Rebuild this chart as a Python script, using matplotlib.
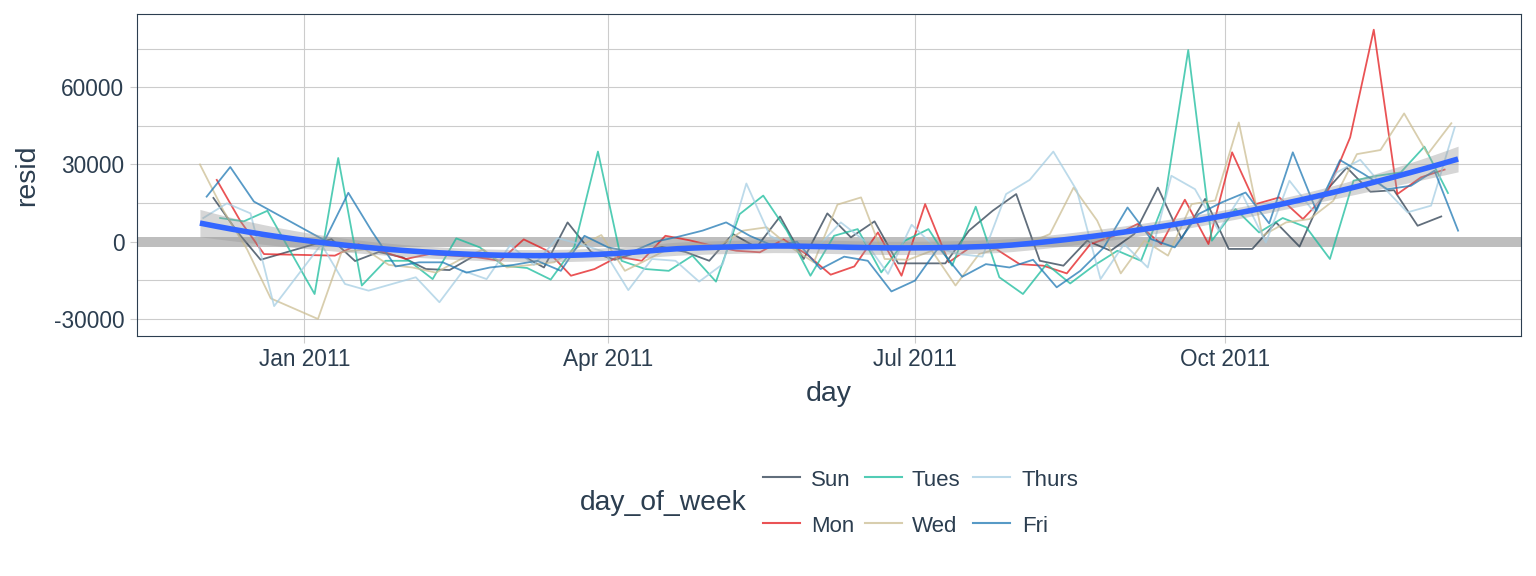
import numpy as np
import pandas as pd
import matplotlib
matplotlib.use("Agg")
import matplotlib.pyplot as plt
import matplotlib.dates as mdates
from matplotlib.lines import Line2D

plt.rcParams['font.family'] = ['Liberation Sans', 'DejaVu Sans']

# ---------------- data ----------------
series_names = ['Sun', 'Mon', 'Tues', 'Wed', 'Thurs', 'Fri']
series_colors = ['#2c3e50', '#e31a1c', '#18BC9C', '#CCBE93', '#a6cee3', '#1f78b4']

# (pre-holiday start, number of pre-holiday weeks, post-holiday start, end)
sun_dates = ('2010-12-05', 3, '2011-01-09', '2011-12-04')
mon_dates = ('2010-12-06', 3, '2011-01-10', '2011-12-05')
tue_dates = ('2010-12-07', 3, '2011-01-04', '2011-12-06')
wed_dates = ('2010-12-01', 4, '2011-01-05', '2011-12-07')
thu_dates = ('2010-12-02', 4, '2011-01-06', '2011-12-08')
fri_dates = ('2010-12-03', 3, '2011-01-07', '2011-12-09')

sun_resid = [17000, 4000, -7000,
             1000, -7500, -4000, -6000, -10600, -11000, -5700, -6000, -5000, -10000,
             7500, -4000, -7000, -4000, -2000, -4000, -7400, 3000, -2200, 9800, -6700,
             11000, 1700, 7900, -8400, -8400, -8400, 4300, 12000, 18500, -7400, -9300,
             400, -3500, 3000, 21000, 1300, 16600, -2800, -2800, 7500, -1900, 18500,
             28800, 19400, 20000, 6200, 9800]
mon_resid = [24000, 8000, -4800,
             -5400, -1000, -3700, -6700, -4800, -5400, -6000, -7400, 900, -3500,
             -13200, -10600, -5800, -7400, 2300, 600, -1600, -3500, -4100, 900, -5000,
             -12800, -9600, 3600, -13200, 14600, -8000, -1600, -2800, -8700, -9300,
             -12300, -900, 2300, 6900, -900, 16300, -900, 34700, 14600, 17200, 8800,
             18500, 40500, 82300, 18500, 25000, 28000]
tue_resid = [9200, 7900, 12000,
             -20300, 32500, -17000, -7400, -7400, -14500, 1300, -2200, -9300, -10200,
             -14700, -2000, 35000, -7400, -10600, -11300, -5400, -15500, 10700, 17900,
             4300, -13200, 2300, 4900, -11900, 400, 4900, -9300, 13600, -13800, -20300,
             -8700, -16200, -9300, -3500, -7400, 15900, 74400, 400, 12700, 3600, 9200,
             5600, -6700, 23700, 25600, 26900, 36900, 18900]
wed_resid = [30000, 12000, -3000, -22000,
             -30000, -4000, -3000, -9000, -10000, -12000, -7000, -3000, -10000, -9000,
             -8000, -2200, 2600, -11300, -6700, -2000, -1000, -1500, 4300, 5600, -2000,
             -8000, 14400, 17200, -6700, -7000, -3500, -17000, -4800, -2200, -900, 3000,
             21000, 8200, -12300, 400, -5400, 14600, 16000, 46300, 2300, 7500, 8800,
             15900, 34000, 35600, 49800, 34000, 46000]
thu_resid = [9200, 14900, 11000, -25000,
             -1000, -16400, -19000, -16400, -13800, -23500, -11300, -14500, -1300, -9000,
             1400, -1000, -4000, -18800, -6700, -7400, -15500, -8700, 22600, 2300, -2200,
             -2200, 7500, 400, -12500, 6600, -2200, -4800, -5800, 18500, 24000, 35000,
             19800, -14500, -900, -10000, 25600, 20400, 4300, 18500, -300, 23700, 12000,
             26900, 31800, 21000, 11400, 14000, 44400]
fri_resid = [17500, 29000, 15600,
             500, 19000, 4000, -9600, -8000, -8000, -12000, -10000, -9000, -7400,
             -11300, 2300, -2200, -4000, 0, 2000, 4300, 7500, 2300, -1600, 0, -10600,
             -5800, -7400, -19300, -15100, -2200, -13600, -8700, -10000, -7000, -17700,
             -11300, -2200, 13300, 1000, -2200, 10700, 15300, 19100, 7100, 34700, 12000,
             31700, 26300, 20400, 21700, 27600, 4300]

date_specs = [sun_dates, mon_dates, tue_dates, wed_dates, thu_dates, fri_dates]
resid_lists = [sun_resid, mon_resid, tue_resid, wed_resid, thu_resid, fri_resid]

y_ticks = [-30000, 0, 30000, 60000]
y_minor = [-15000, 15000, 45000, 75000]
x_tick_dates = ['2011-01-01', '2011-04-01', '2011-07-01', '2011-10-01']


def make_dates(spec):
    pre_start, n_pre, post_start, post_end = spec
    pre = pd.date_range(pre_start, periods=n_pre, freq='7D')
    post = pd.date_range(post_start, post_end, freq='7D')
    return pre.append(post)


frames = []
for name, spec, vals in zip(series_names, date_specs, resid_lists):
    d = make_dates(spec)
    assert len(d) == len(vals), (name, len(d), len(vals))
    frames.append(pd.DataFrame({'day': d, 'resid': vals, 'day_of_week': name}))
df = pd.concat(frames, ignore_index=True)


# ---------------- loess smoother (like geom_smooth default) ----------------
def loess_matrix(x, x_eval, span=0.75):
    n = len(x)
    q = int(np.floor(n * span))
    rows = []
    for x0 in x_eval:
        dist = np.abs(x - x0)
        h = np.sort(dist)[q - 1]
        u = np.clip(dist / h, 0, 1)
        w = (1 - u ** 3) ** 3
        X = np.column_stack([np.ones(n), x - x0, (x - x0) ** 2])
        XtW = X.T * w
        A = np.linalg.solve(XtW @ X, XtW)
        rows.append(A[0])
    return np.array(rows)


xnum = mdates.date2num(df['day'].values)
yv = df['resid'].values.astype(float)
x_eval = np.linspace(xnum.min(), xnum.max(), 80)
L_eval = loess_matrix(xnum, x_eval)
L_data = loess_matrix(xnum, xnum)
fit = L_eval @ yv
resid_fit = yv - L_data @ yv
IL = np.eye(len(xnum)) - L_data
delta1 = np.trace(IL.T @ IL)
sigma = np.sqrt(np.sum(resid_fit ** 2) / delta1)
se = sigma * np.sqrt(np.sum(L_eval ** 2, axis=1))
tq = 1.968
lo, hi = fit - tq * se, fit + tq * se

# ---------------- figure ----------------
W, H = 1536, 576
fig = plt.figure(figsize=(W / 100, H / 100), dpi=100)
text_col = '#2c3e50'
grid_col = '#CCCCCC'

pl, pr, pt, pb = 137, 1521, 14, 336
ax = fig.add_axes([pl / W, 1 - pb / H, (pr - pl) / W, (pb - pt) / H])

ax.axhline(0, color='#BEBEBE', lw=7.2, zorder=1.5)
for name, col in zip(series_names, series_colors):
    sub = df[df['day_of_week'] == name]
    ax.plot(sub['day'], sub['resid'], color=col, alpha=0.75, lw=1.3, zorder=2)

ax.fill_between(mdates.num2date(x_eval), lo, hi, color='#999999', alpha=0.4,
                lw=0, zorder=3)
ax.plot(mdates.num2date(x_eval), fit, color='#3366FF', lw=4.0, zorder=4,
        solid_capstyle='butt')

xmin, xmax = xnum.min(), xnum.max()
rng = xmax - xmin
ax.set_xlim(xmin - 0.05 * rng, xmax + 0.05 * rng)
ax.set_ylim(-36600, 88400)

ax.set_xticks(mdates.date2num(pd.to_datetime(x_tick_dates)))
ax.xaxis.set_major_formatter(mdates.DateFormatter('%b %Y'))
ax.set_yticks(y_ticks)
ax.set_yticklabels([str(v) for v in y_ticks])
ax.set_yticks(y_minor, minor=True)
ax.tick_params(axis='y', which='minor', length=0)

ax.grid(True, which='major', color=grid_col, lw=0.8, zorder=0)
ax.grid(True, which='minor', axis='y', color=grid_col, lw=0.8, zorder=0)
ax.set_axisbelow(True)

ax.tick_params(axis='both', which='major', length=5, width=0.8, color=grid_col,
               labelcolor=text_col, labelsize=16.3, pad=4)
ax.tick_params(axis='x', pad=3.5)
for s in ax.spines.values():
    s.set_color(text_col)
    s.set_linewidth(0.8)

fig.text(829 / W, 1 - 394 / H, 'day', ha='center', va='center', fontsize=20.5,
         color=text_col)
fig.text(27 / W, 1 - 175 / H, 'resid', ha='center', va='center', fontsize=20.5,
         color=text_col, rotation=90)

# ---------------- legend ----------------
fig.text(580 / W, 1 - 510 / H, 'day_of_week', ha='left', va='baseline',
         fontsize=20.3, color=text_col)
key_x = [763, 865, 973]
lab_x = [811, 912, 1022]
row_y = [477, 523]
for i, (name, col) in enumerate(zip(series_names, series_colors)):
    c, r = i // 2, i % 2
    y = 1 - row_y[r] / H
    fig.add_artist(Line2D([key_x[c] / W, (key_x[c] + 37) / W], [y, y],
                          transform=fig.transFigure, color=col, alpha=0.75, lw=1.5))
    fig.text(lab_x[c] / W, 1 - (row_y[r] + 9.5) / H, name, ha='left',
             va='baseline', fontsize=16, color=text_col)

fig.savefig('out.png', dpi=100, facecolor='white')
